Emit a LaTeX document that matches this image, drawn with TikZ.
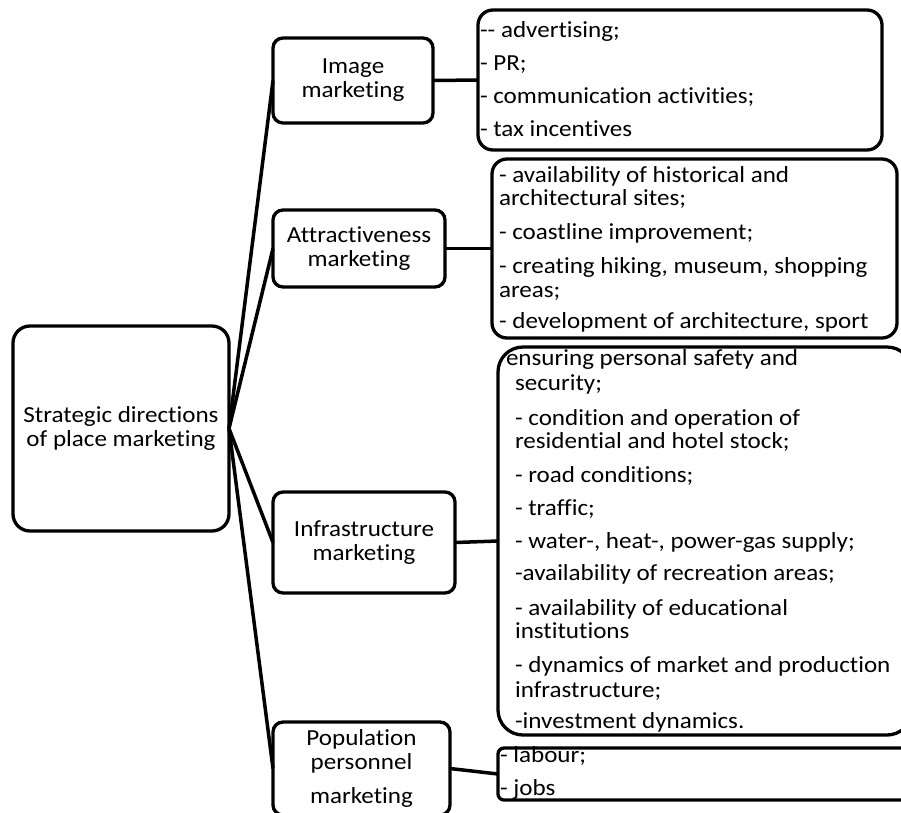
\documentclass[tikz,border=0pt]{standalone}
\usepackage{fontspec}
\setmainfont{Carlito}[FakeStretch=1.09, Ligatures=NoCommon]
\newcommand\myfs{\fontsize{23}{24}\selectfont}
\begin{document}
\begin{tikzpicture}[x=1pt,y=-1pt,
  box/.style={draw, line width=3.3pt, rounded corners=#1, inner sep=0pt, outer sep=0pt, align=center, font=\myfs},
  box/.default=10pt,
  conn/.style={line width=3.5pt},
  txt/.style={anchor=base west, inner sep=0pt, outer sep=0pt, font=\myfs}]
\useasboundingbox (0,0) rectangle (901,812);
\clip (0,0) rectangle (901,812);
% left column
\node[box=17pt, minimum width=216pt, minimum height=205pt] (main) at (121,428.5) {Strategic directions\\of place marketing};
\node[box, minimum width=160pt, minimum height=85pt] (img) at (353,80.5) {Image\\marketing};
\node[box, minimum width=172pt, minimum height=77pt] (attr) at (359,248.5) {Attractiveness\\marketing};
\node[box, minimum width=182pt, minimum height=101pt] (infra) at (364,542.5) {Infrastructure\\marketing};
\node[box, minimum width=177pt, minimum height=93pt] (pop) at (361.5,768.5) {Population\\personnel\\[10pt]marketing};
% right boxes
\node[box=15pt, minimum width=404pt, minimum height=140pt] (b1) at (680,80) {};
\node[box=15pt, minimum width=405pt, minimum height=179pt] (b2) at (694.5,248.5) {};
\node[box=25pt, minimum width=414pt, minimum height=388pt] (b3) at (705,541) {};
\node[box=6pt, minimum width=414pt, minimum height=52pt] (b4) at (705,774) {};
% connectors
\draw[conn] (main.east) -- (img.west);
\draw[conn] (main.east) -- (attr.west);
\draw[conn] (main.east) -- (infra.west);
\draw[conn] (main.east) -- (pop.west);
\draw[conn] (img.east) -- (b1.west);
\draw[conn] (attr.east) -- (b2.west);
\draw[conn] (infra.east) -- (b3.west);
\draw[conn] (pop.east) -- (b4.west);
% box 1 text
\node[txt] (t1a) at (480,37) {-{}- advertising;};
\node[txt] (t1b) at (480,70) {- PR;};
\node[txt] (t1c) at (480,103) {- communication activities;};
\node[txt] (t1d) at (480,136) {- tax incentives};
% box 2 text
\node[txt] (t2a) at (499,182) {- availability of historical and};
\node[txt] (t2b) at (499,205) {architectural sites;};
\node[txt] (t2c) at (499,239) {- coastline improvement;};
\node[txt] (t2d) at (499,273) {- creating hiking, museum, shopping};
\node[txt] (t2e) at (499,297) {areas;};
\node[txt] (t2f) at (499,328) {- development of architecture, sport};
% box 3 text
\node[txt] (t3a) at (506,365) {ensuring personal safety and};
\node[txt] (t3b) at (515,390) {security;};
\node[txt] (t3c) at (515,425) {- condition and operation of};
\node[txt] (t3d) at (515,448) {residential and hotel stock;};
\node[txt] (t3e) at (515,482) {- road conditions;};
\node[txt] (t3f) at (515,515) {- traffic;};
\node[txt] (t3g) at (515,548) {- water-, heat-, power-gas supply;};
\node[txt] (t3h) at (515,580) {-availability of recreation areas;};
\node[txt] (t3i) at (515,615) {- availability of educational};
\node[txt] (t3j) at (515,638) {institutions};
\node[txt] (t3k) at (515,672) {- dynamics of market and production};
\node[txt] (t3l) at (515,697) {infrastructure;};
\node[txt] (t3m) at (515,728) {-investment dynamics.};
% box 4 text
\node[txt] (t4a) at (500,762) {- labour;};
\node[txt] (t4b) at (500,795) {- jobs};
\end{tikzpicture}
\end{document}
